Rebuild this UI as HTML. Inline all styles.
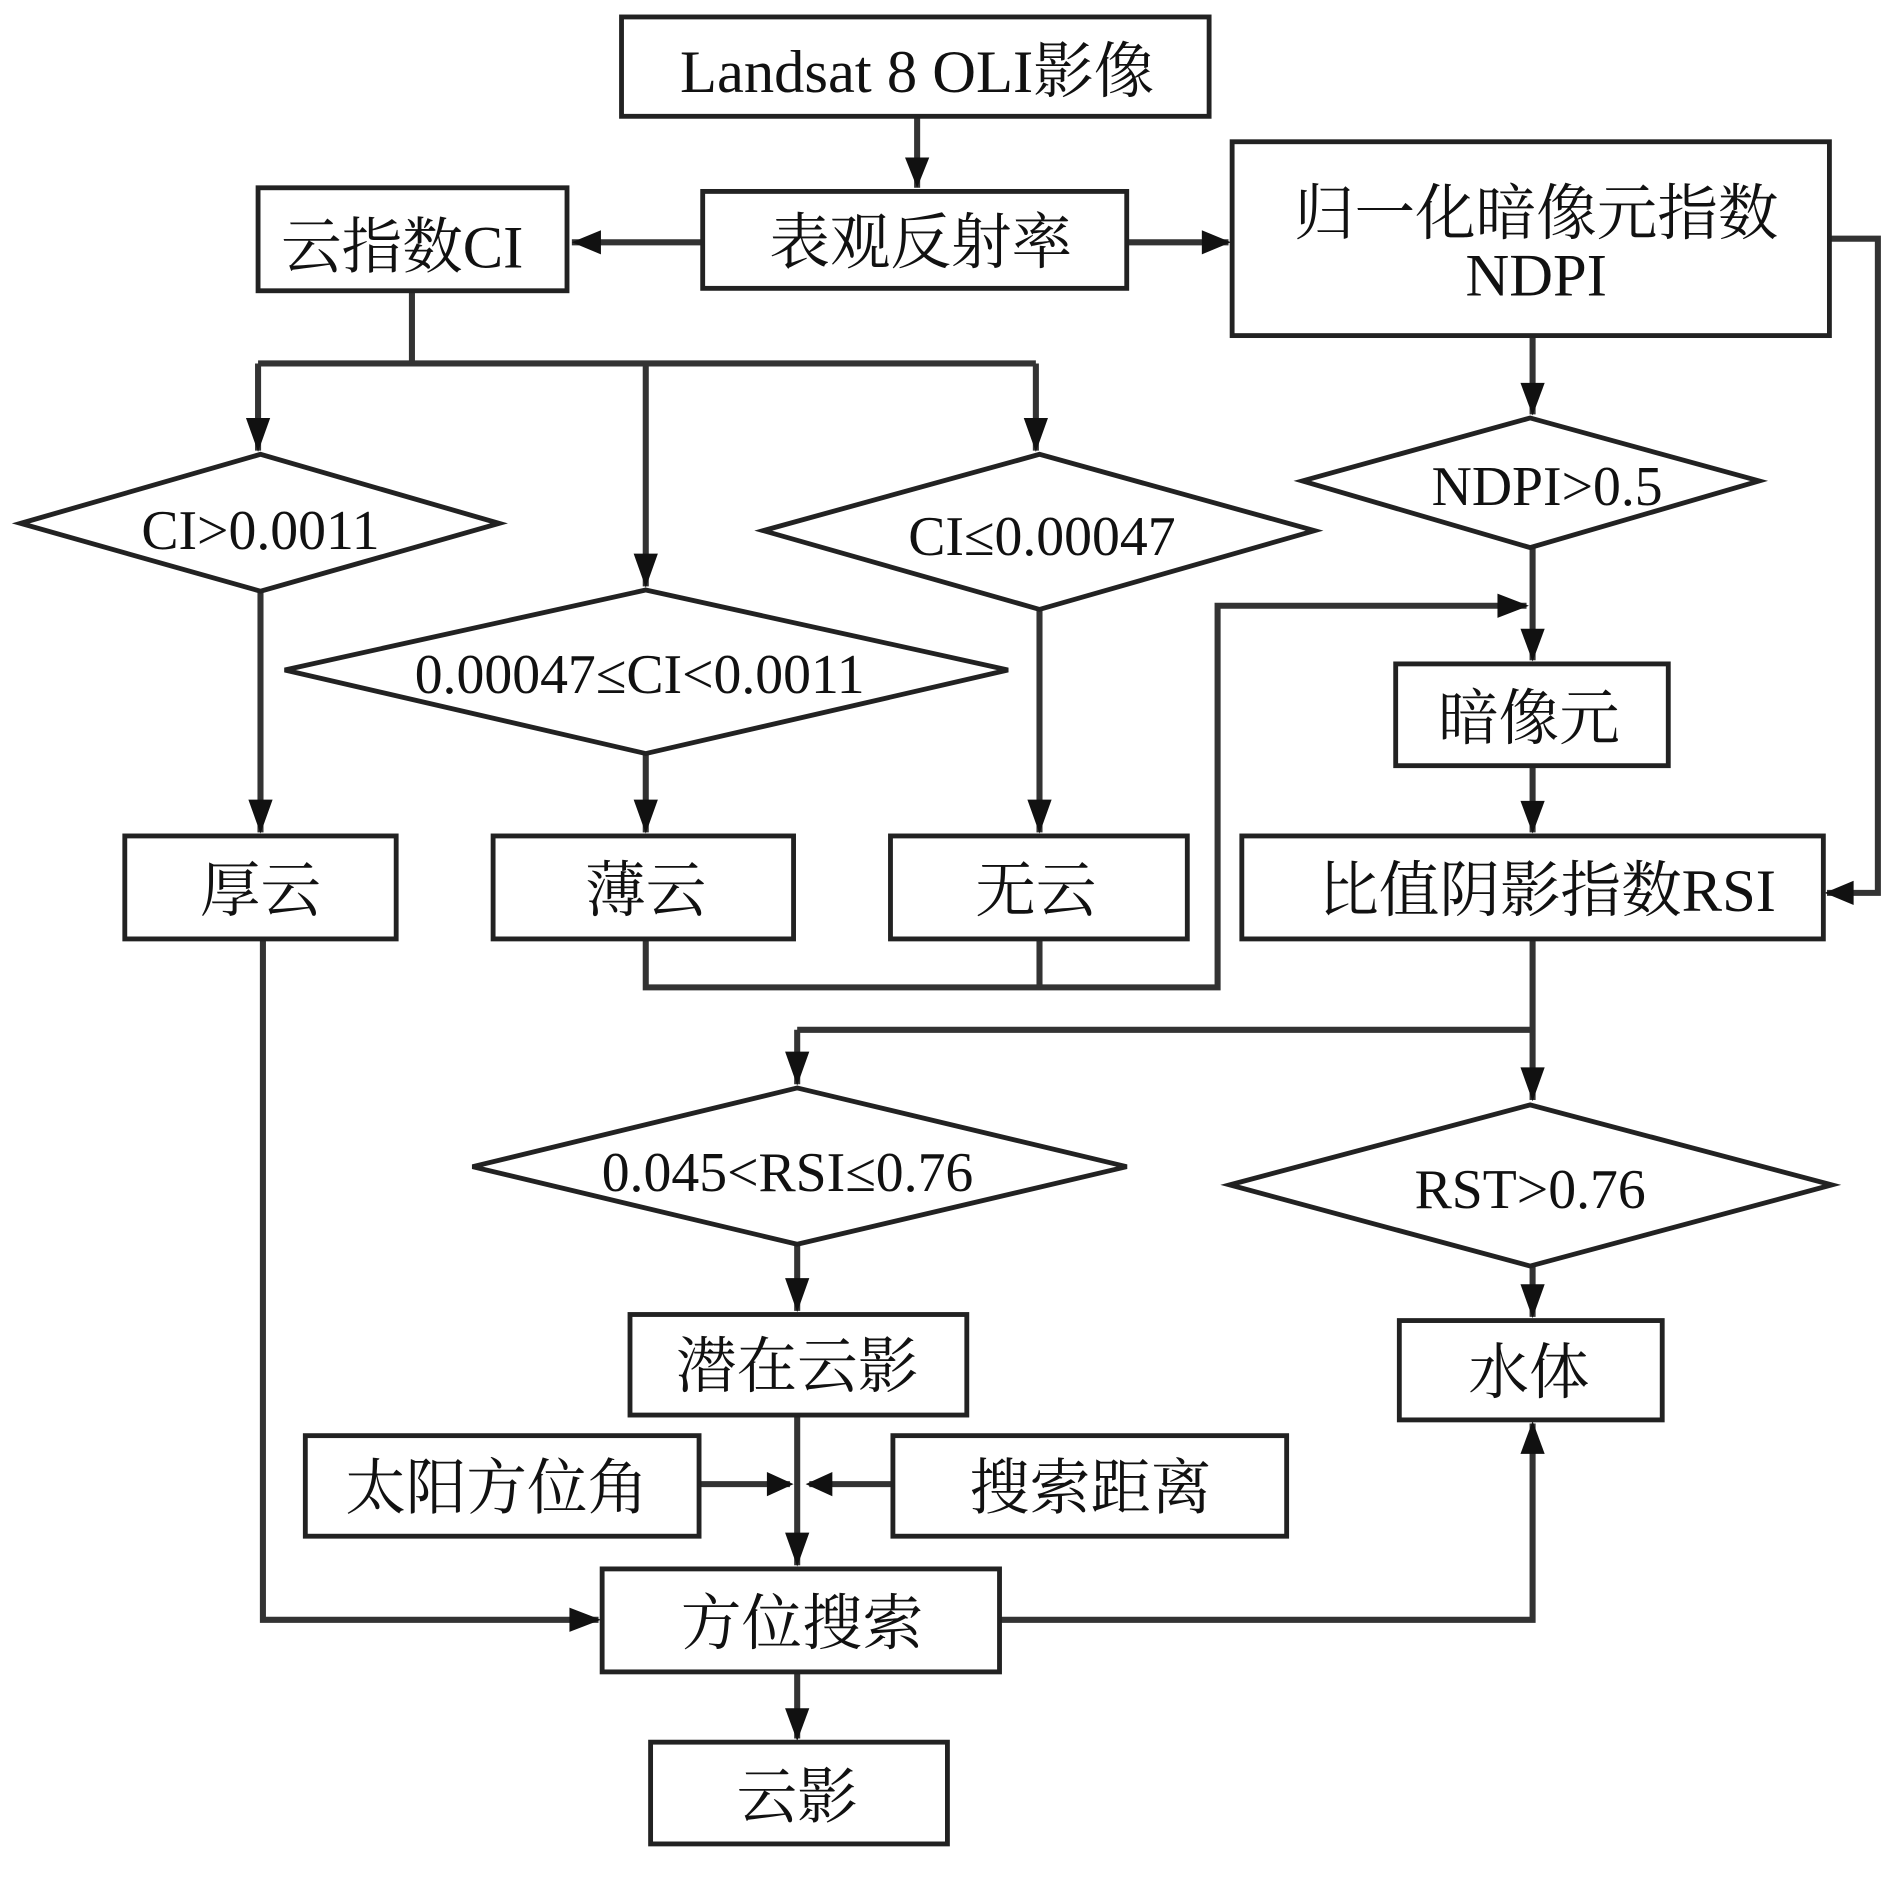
<!DOCTYPE html>
<html><head><meta charset="utf-8"><style>
html,body{margin:0;padding:0;background:#fff;}
svg{display:block;}
text{font-family:"Liberation Serif","Noto Serif CJK SC",serif;fill:#111;text-anchor:middle;}
</style></head><body>
<svg width="1890" height="1893" viewBox="0 0 1560 1562.5" xmlns="http://www.w3.org/2000/svg">
<defs>
<marker id="a" viewBox="0 0 10 10" refX="10" refY="5" markerWidth="6" markerHeight="6" orient="auto" markerUnits="userSpaceOnUse"><path d="M0,0 L10,5 L0,10 z" fill="#111"/></marker>
</defs>
<g fill="none" stroke="#333" stroke-width="5">
<!-- lines -->
<path d="M757,96 V155"/>
<path d="M580,200 H472"/>
<path d="M930,200 H1014"/>
<path d="M1510,197 H1550 V737 H1508"/>
<path d="M340,240 V300 M213,300 H855 M213,300 V372 M533,300 V484 M855,300 V372"/>
<path d="M215,488 V687 M533,622 V687 M858,503 V687"/>
<path d="M533,775 V815 H1005 V500 H1260"/>
<path d="M1265,277 V342 M1265,452 V545 M1265,632 V687"/>
<path d="M1265,775 V908 M658,850 H1265 M658,850 V895"/>
<path d="M1265,1045 V1087 M658,1027 V1082"/>
<path d="M658,1168 V1292 M577,1225 H652 M737,1225 H668"/>
<path d="M217,775 V1337 H494"/>
<path d="M825,1337 H1265 V1175"/>
<path d="M658,1380 V1435"/>
<path d="M858,775 V815"/>
</g>
<!-- arrowheads -->
<g fill="#111">
<path d="M747,130 L767,130 L757,155 z"/>
<path d="M472,200 L496,190 L496,210 z"/>
<path d="M1016,200 L992,190 L992,210 z"/>
<path d="M1506,737 L1530,727 L1530,747 z"/>
<path d="M203,345 L223,345 L213,373 z"/>
<path d="M523,457 L543,457 L533,485 z"/>
<path d="M845,345 L865,345 L855,373 z"/>
<path d="M205,660 L225,660 L215,688 z"/>
<path d="M523,660 L543,660 L533,688 z"/>
<path d="M848,660 L868,660 L858,688 z"/>
<path d="M1262,500 L1236,490 L1236,510 z"/>
<path d="M1255,316 L1275,316 L1265,343 z"/>
<path d="M1255,519 L1275,519 L1265,546 z"/>
<path d="M1255,661 L1275,661 L1265,688 z"/>
<path d="M1255,881 L1275,881 L1265,909 z"/>
<path d="M648,868 L668,868 L658,896 z"/>
<path d="M1255,1060 L1275,1060 L1265,1088 z"/>
<path d="M648,1055 L668,1055 L658,1083 z"/>
<path d="M648,1265 L668,1265 L658,1293 z"/>
<path d="M655,1225 L633,1215 L633,1235 z"/>
<path d="M665,1225 L687,1215 L687,1235 z"/>
<path d="M496,1337 L470,1327 L470,1347 z"/>
<path d="M1265,1173 L1255,1200 L1275,1200 z"/>
<path d="M648,1410 L668,1410 L658,1437 z"/>
</g>
<!-- boxes -->
<g fill="#fff" stroke="#222" stroke-width="4">
<rect x="513" y="14" width="485" height="82"/>
<rect x="580" y="158" width="350" height="80"/>
<rect x="213" y="155" width="255" height="85"/>
<rect x="1017" y="117" width="493" height="160"/>
<rect x="103" y="690" width="224" height="85"/>
<rect x="407" y="690" width="248" height="85"/>
<rect x="735" y="690" width="245" height="85"/>
<rect x="1152" y="548" width="225" height="84"/>
<rect x="1025" y="690" width="480" height="85"/>
<rect x="1155" y="1090" width="217" height="82"/>
<rect x="520" y="1085" width="278" height="83"/>
<rect x="252" y="1185" width="325" height="83"/>
<rect x="737" y="1185" width="325" height="83"/>
<rect x="497" y="1295" width="328" height="85"/>
<rect x="537" y="1438" width="245" height="84"/>
<!-- diamonds -->
<path d="M17,432 L215,375 L412,432 L215,488 z"/>
<path d="M235,553 L533,487 L832,553 L533,622 z"/>
<path d="M630,438 L858,375 L1085,438 L858,503 z"/>
<path d="M1075,397 L1263,345 L1452,397 L1263,452 z"/>
<path d="M390,963 L658,898 L930,963 L658,1027 z"/>
<path d="M1015,978 L1263,912 L1512,978 L1263,1045 z"/>
</g>
<!-- labels -->
<g font-size="50">
<text x="757" y="76">Landsat 8 OLI影像</text>
<text x="760" y="217">表观反射率</text>
<text x="332" y="221">云指数CI</text>
<text x="1268" y="193">归一化暗像元指数</text>
<text x="1268" y="244">NDPI</text>
<text x="215" y="453" font-size="46">CI&gt;0.0011</text>
<text x="528" y="572" font-size="46">0.00047≤CI&lt;0.0011</text>
<text x="860" y="458" font-size="46">CI≤0.00047</text>
<text x="1277" y="417" font-size="46">NDPI&gt;0.5</text>
<text x="215" y="752">厚云</text>
<text x="533" y="752">薄云</text>
<text x="855" y="752">无云</text>
<text x="1262" y="610">暗像元</text>
<text x="1277" y="752">比值阴影指数RSI</text>
<text x="650" y="983" font-size="46">0.045&lt;RSI≤0.76</text>
<text x="1263" y="997" font-size="46">RST&gt;0.76</text>
<text x="658" y="1145">潜在云影</text>
<text x="1262" y="1150">水体</text>
<text x="410" y="1245">太阳方位角</text>
<text x="900" y="1245">搜索距离</text>
<text x="662" y="1357">方位搜索</text>
<text x="658" y="1500">云影</text>
</g>
</svg>
</body></html>
